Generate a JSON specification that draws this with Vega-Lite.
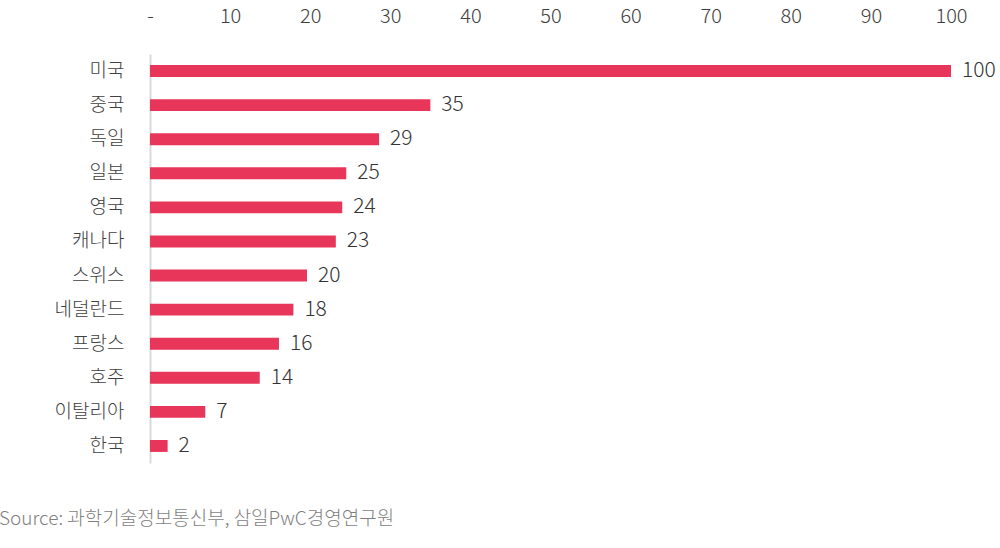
{
  "$schema": "https://vega.github.io/schema/vega-lite/v6.json",
  "autosize": "none",
  "width": 801,
  "height": 409,
  "padding": {"left": 150, "top": 54, "right": 49, "bottom": 85},
  "background": "white",
  "config": {
    "font": "Noto Sans CJK KR",
    "view": {"stroke": null}
  },
  "title": {
    "text": "Source: 과학기술정보통신부, 삼일PwC경영연구원",
    "orient": "bottom",
    "anchor": "start",
    "frame": "group",
    "dx": -151,
    "offset": 47,
    "fontSize": 19,
    "fontWeight": 300,
    "color": "#7f7f7f",
    "font": "Noto Sans CJK KR"
  },
  "data": {
    "values": [
      {"country": "미국", "value": 100},
      {"country": "중국", "value": 35},
      {"country": "독일", "value": 28.6},
      {"country": "일본", "value": 24.5},
      {"country": "영국", "value": 24},
      {"country": "캐나다", "value": 23.2},
      {"country": "스위스", "value": 19.6},
      {"country": "네덜란드", "value": 17.9},
      {"country": "프랑스", "value": 16.1},
      {"country": "호주", "value": 13.7},
      {"country": "이탈리아", "value": 6.9},
      {"country": "한국", "value": 2.2}
    ]
  },
  "encoding": {
    "y": {
      "field": "country",
      "type": "nominal",
      "sort": null,
      "title": null,
      "scale": {"paddingInner": 0.65, "paddingOuter": 0.325},
      "axis": {
        "ticks": false,
        "labelPadding": 26,
        "labelFontSize": 19,
        "labelFontWeight": 300,
        "labelColor": "#404040",
        "domainColor": "#d9d9d9",
        "domainWidth": 2
      }
    },
    "x": {
      "field": "value",
      "type": "quantitative",
      "title": null,
      "scale": {"domain": [0, 100], "nice": false},
      "axis": {
        "orient": "top",
        "values": [0, 10, 20, 30, 40, 50, 60, 70, 80, 90, 100],
        "labelExpr": "datum.value == 0 ? '-' : datum.label",
        "labelFlush": false,
        "labelOverlap": false,
        "grid": false,
        "domain": false,
        "ticks": false,
        "labelPadding": 28,
        "labelFontSize": 20,
        "labelFontWeight": 300,
        "labelColor": "#404040"
      }
    }
  },
  "layer": [
    {
      "mark": {"type": "bar", "color": "#e8365a"}
    },
    {
      "mark": {"type": "text", "align": "left", "dx": 11, "fontSize": 21, "fontWeight": 300, "color": "#333333"},
      "encoding": {"text": {"field": "value", "type": "quantitative", "format": ".0f"}}
    }
  ]
}
